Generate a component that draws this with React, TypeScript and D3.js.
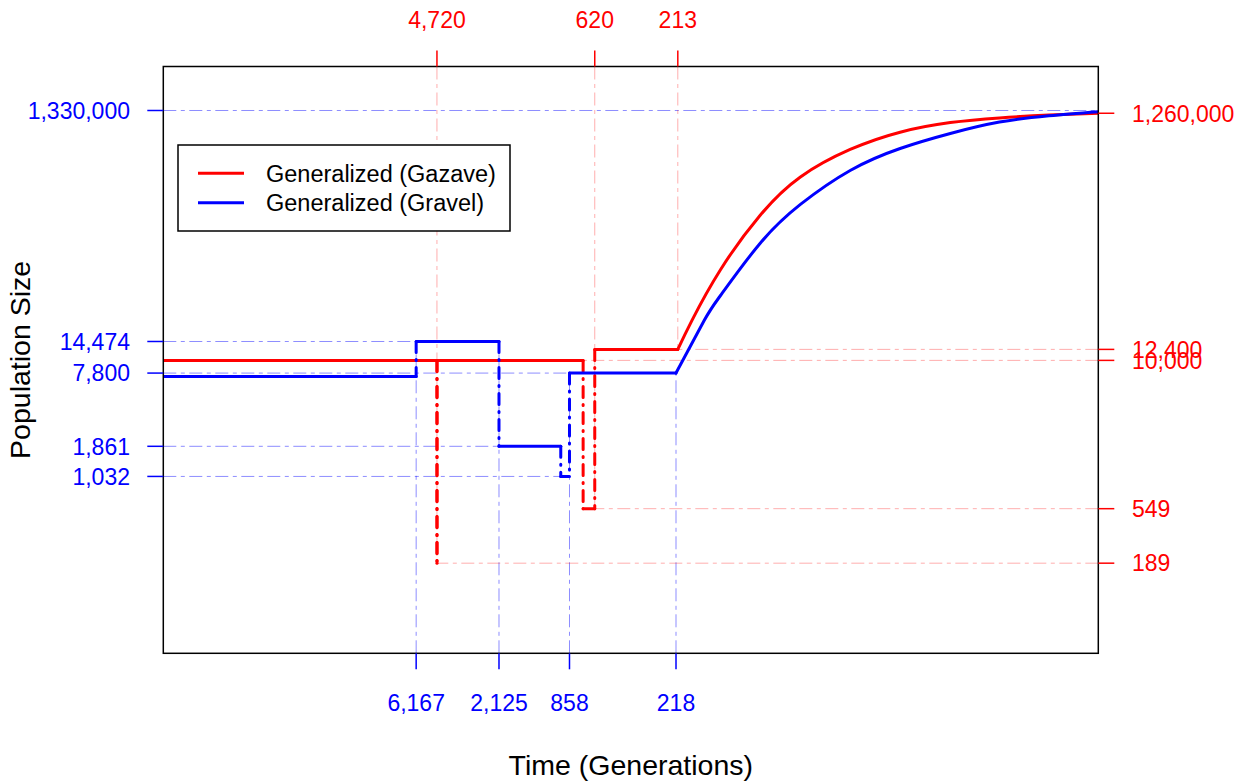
import React from "react";
import * as d3 from "d3";

// Generalized demographic histories (time in generations before present)
const gazaveSizes = [10000, 189, 10000, 549, 12400];
const gazaveBreaks = [4720, 4715, 720, 620, 213]; // epoch i ends at gazaveBreaks[i]

const gravelSizes = [7310, 14474, 1861, 1032, 7800];
const gravelBreaks = [6167, 2125, 960, 858, 218];

// Recent growth phase: population size at selected generations before present
const gazaveGrowthTimes = [213, 177.5, 123, 74, 44, 23.2, 12.2, 6.4, 3.4, 1.8, 0.95];
const gazaveGrowthSizes = [12400, 21900, 59000, 170500, 362000, 620000, 870000, 1050000, 1150000, 1215000, 1260000];

const gravelGrowthTimes = [218, 151.5, 123, 74, 44, 23.2, 12.2, 6.4, 3.4, 1.8, 0.95];
const gravelGrowthSizes = [7800, 21900, 35600, 98600, 211500, 411000, 632000, 848000, 1060000, 1200000, 1300000];

const leftTickValues = [1330000, 14474, 7800, 1861, 1032];
const rightTickValues = [1260000, 12400, 10000, 549, 189];
const bottomTickValues = [6167, 2125, 858, 218];
const topTickValues = [4720, 620, 213];

const legendLabels = ["Generalized (Gazave)", "Generalized (Gravel)"];

const W = 1249;
const H = 784;
const box = { left: 163.3, right: 1098.3, top: 66.5, bottom: 653.3 };

const x = d3
  .scaleLog()
  .domain([Math.pow(10, 5.2027), Math.pow(10, -0.0207)])
  .range([box.left, box.right]);
const y = d3
  .scaleLog()
  .domain([Math.pow(10, 1.5105), Math.pow(10, 6.4977)])
  .range([box.bottom, box.top]);

const RED = "#ff0000";
const BLUE = "#0000ff";
const RED_FAINT = "rgba(255,0,0,0.32)";
const BLUE_FAINT = "rgba(0,0,255,0.45)";
const fmt = d3.format(",");
const FONT = "'Liberation Sans', Arial, Helvetica, sans-serif";

const T_START = 1e6; // beyond the left edge, clipped

function model(sizes: number[], breaks: number[], growthTimes: number[], growthSizes: number[]) {
  const horiz: [number, number, number][] = []; // x1, x2, y
  const vert: [number, number, number][] = []; // x, y1, y2
  let tPrev = T_START;
  sizes.forEach((n, i) => {
    horiz.push([x(tPrev), x(breaks[i]), y(n)]);
    if (i < sizes.length - 1) {
      // drawn top-down so a down-and-back bottleneck keeps a single dash phase
      const a = y(n);
      const b = y(sizes[i + 1]);
      vert.push([x(breaks[i]), Math.min(a, b), Math.max(a, b)]);
    }
    tPrev = breaks[i];
  });
  const curve = growthTimes.map((t, i) => [x(t), y(growthSizes[i])] as [number, number]);
  return { horiz, vert, curve };
}

const gazave = model(gazaveSizes, gazaveBreaks, gazaveGrowthTimes, gazaveGrowthSizes);
const gravel = model(gravelSizes, gravelBreaks, gravelGrowthTimes, gravelGrowthSizes);

const smooth = d3.line().curve(d3.curveNatural);
const thinDash = "13,4.5,4,4.5";
const thickDash = "11,7,1,7";

export default function App() {
  // faint guide lines for the Gravel model (from the left / bottom)
  const blueH: [number, number][] = [
    [1330000, box.right],
    [14474, x(6167)],
    [7800, x(858)],
    [1861, x(2125)],
    [1032, x(960)],
  ];
  const blueV: [number, number][] = [
    [6167, y(14474)],
    [2125, y(14474)],
    [858, y(7800)],
    [218, y(7800)],
  ];
  // faint guide lines for the Gazave model (from the right / top)
  const redH: [number, number][] = [
    [1260000, box.right - 2],
    [12400, x(213)],
    [10000, x(720)],
    [549, x(620)],
    [189, x(4720)],
  ];
  const redV: [number, number][] = [
    [4720, y(189)],
    [620, y(549)],
    [213, y(12400)],
  ];

  const drawModel = (m: ReturnType<typeof model>, color: string) => (
    <g stroke={color} strokeWidth={3} fill="none" strokeLinecap="round">
      {m.horiz.map((h, i) => (
        <line key={"h" + i} x1={h[0]} x2={h[1]} y1={h[2]} y2={h[2]} />
      ))}
      {m.vert.map((v, i) => (
        <line key={"v" + i} x1={v[0]} x2={v[0]} y1={v[1]} y2={v[2]} strokeDasharray={thickDash} />
      ))}
      <path d={smooth(m.curve) || ""} strokeLinejoin="round" />
    </g>
  );

  return (
    <svg width={W} height={H} style={{ position: "absolute", left: 0, top: 0, background: "#fff" }} fontFamily={FONT}>
      <defs>
        <clipPath id="plotArea">
          <rect x={box.left} y={box.top} width={box.right - box.left} height={box.bottom - box.top} />
        </clipPath>
      </defs>

      <g clipPath="url(#plotArea)">
        <g strokeWidth={1} strokeDasharray={thinDash} fill="none">
          {blueH.map(([n, xe], i) => (
            <line key={"bh" + i} x1={box.left} x2={xe} y1={y(n)} y2={y(n)} stroke={BLUE_FAINT} />
          ))}
          {blueV.map(([t, ye], i) => (
            <line key={"bv" + i} x1={x(t)} x2={x(t)} y1={box.bottom} y2={ye} stroke={BLUE_FAINT} />
          ))}
          {redH.map(([n, xs], i) => (
            <line key={"rh" + i} x1={box.right} x2={xs} y1={y(n)} y2={y(n)} stroke={RED_FAINT} />
          ))}
          {redV.map(([t, ye], i) => (
            <line key={"rv" + i} x1={x(t)} x2={x(t)} y1={box.top} y2={ye} stroke={RED_FAINT} />
          ))}
        </g>
        {drawModel(gazave, RED)}
        {drawModel(gravel, BLUE)}
      </g>

      {/* plot frame */}
      <rect
        x={box.left}
        y={box.top}
        width={box.right - box.left}
        height={box.bottom - box.top}
        fill="none"
        stroke="#000"
        strokeWidth={1.5}
      />

      {/* left axis */}
      {leftTickValues.map((n) => (
        <g key={"l" + n}>
          <line x1={box.left - 16} x2={box.left} y1={y(n)} y2={y(n)} stroke={BLUE} strokeWidth={1.5} />
          <text x={130} y={y(n)} dy="0.36em" textAnchor="end" fill={BLUE} fontSize={23}>
            {fmt(n)}
          </text>
        </g>
      ))}

      {/* right axis */}
      {rightTickValues.map((n) => (
        <g key={"r" + n}>
          <line x1={box.right} x2={box.right + 16} y1={y(n)} y2={y(n)} stroke={RED} strokeWidth={1.5} />
          <text x={1132} y={y(n)} dy="0.36em" textAnchor="start" fill={RED} fontSize={23}>
            {fmt(n)}
          </text>
        </g>
      ))}

      {/* bottom axis */}
      {bottomTickValues.map((t) => (
        <g key={"b" + t}>
          <line x1={x(t)} x2={x(t)} y1={box.bottom} y2={box.bottom + 16} stroke={BLUE} strokeWidth={1.5} />
          <text x={x(t)} y={711} textAnchor="middle" fill={BLUE} fontSize={23}>
            {fmt(t)}
          </text>
        </g>
      ))}

      {/* top axis */}
      {topTickValues.map((t) => (
        <g key={"t" + t}>
          <line x1={x(t)} x2={x(t)} y1={box.top - 16} y2={box.top} stroke={RED} strokeWidth={1.5} />
          <text x={x(t)} y={28} textAnchor="middle" fill={RED} fontSize={23}>
            {fmt(t)}
          </text>
        </g>
      ))}

      {/* axis titles */}
      <text x={(box.left + box.right) / 2} y={775} textAnchor="middle" fontSize={28.5} fill="#000">
        Time (Generations)
      </text>
      <text
        transform={`translate(30,${(box.top + box.bottom) / 2}) rotate(-90)`}
        textAnchor="middle"
        fontSize={28.5}
        fill="#000"
      >
        Population Size
      </text>

      {/* legend */}
      <g>
        <rect x={178} y={145} width={332} height={86} fill="#fff" stroke="#000" strokeWidth={1.5} />
        {legendLabels.map((label, i) => {
          const ly = 173.3 + i * 29.4;
          return (
            <g key={label}>
              <line x1={198} x2={244} y1={ly} y2={ly} stroke={i === 0 ? RED : BLUE} strokeWidth={3} />
              <text x={266} y={ly} dy="0.36em" fontSize={23.5} fill="#000">
                {label}
              </text>
            </g>
          );
        })}
      </g>
    </svg>
  );
}
